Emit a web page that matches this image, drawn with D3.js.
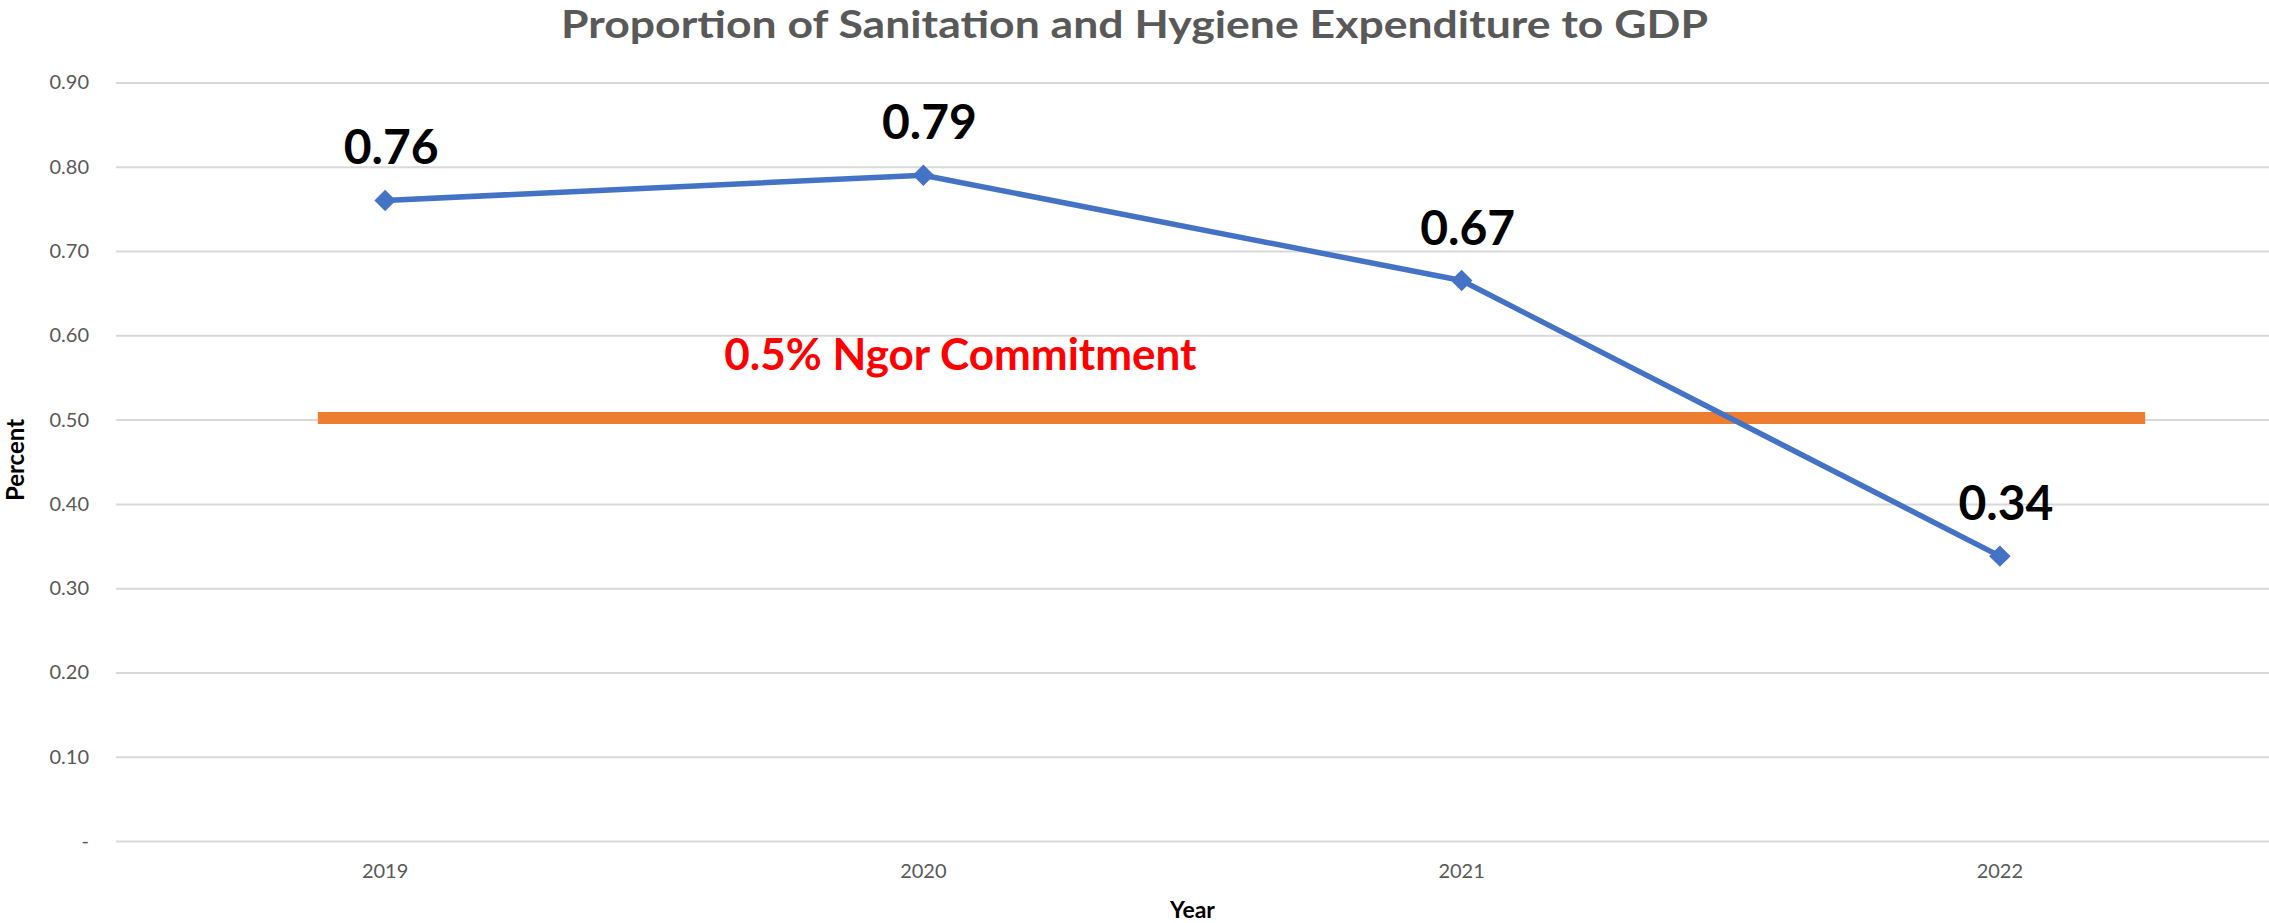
<!DOCTYPE html>
<html>
<head>
<meta charset="utf-8">
<script src="https://cdn.jsdelivr.net/npm/d3@7"></script>
<style>
  body { margin: 0; background: #fff; }
  svg { display: block; font-family: Lato, "Open Sans", sans-serif; }
</style>
</head>
<body>
<svg id="chart"></svg>
<script>
// chart data
var years = ["2019", "2020", "2021", "2022"];
var shares = [0.76, 0.79, 0.665, 0.338];
var yTicks = [0, 0.1, 0.2, 0.3, 0.4, 0.5, 0.6, 0.7, 0.8, 0.9];
var commitmentValue = 0.5;
var commitmentLabel = "0.5% Ngor Commitment";
// span of the commitment bar, in category index units
var commitmentSpan = [-0.125, 3.27];

var screen = { width: 2269, height: 923 };
var margins = { top: 82.5, bottom: 82, left: 116, right: 0 };

var plotW = screen.width - margins.left - margins.right;
var plotH = screen.height - margins.top - margins.bottom;

var svg = d3.select("#chart")
  .attr("width", screen.width)
  .attr("height", screen.height);

var xScale = d3.scaleBand().domain(years).range([0, plotW]);
var idxScale = d3.scaleLinear().domain([-0.5, years.length - 0.5]).range([0, plotW]);
var yScale = d3.scaleLinear().domain([0, 0.9]).range([plotH, 0]);

var g = svg.append("g")
  .attr("transform", "translate(" + margins.left + "," + margins.top + ")");

// gridlines + y labels
var yAxis = d3.axisLeft(yScale)
  .tickValues(yTicks)
  .tickSize(-plotW)
  .tickPadding(27)
  .tickFormat(function(d){ return d === 0 ? "-" : d3.format(".2f")(d); });

var yG = g.append("g").call(yAxis);
yG.select(".domain").remove();
yG.selectAll("line").attr("stroke", "#d9d9d9").attr("stroke-width", 2);
yG.selectAll("text")
  .attr("fill", "#595959")
  .attr("font-size", 20)
  .attr("font-family", "Lato, sans-serif");

// x labels
var xAxis = d3.axisBottom(xScale).tickSize(0).tickPadding(23);
var xG = g.append("g").attr("transform", "translate(0," + plotH + ")").call(xAxis);
xG.select(".domain").remove();
xG.selectAll("text")
  .attr("fill", "#595959")
  .attr("font-size", 20)
  .attr("font-family", "Lato, sans-serif");

// commitment bar
g.append("line")
  .attr("x1", idxScale(commitmentSpan[0]))
  .attr("x2", idxScale(commitmentSpan[1]))
  .attr("y1", yScale(commitmentValue) - 1.5)
  .attr("y2", yScale(commitmentValue) - 1.5)
  .attr("stroke", "#ed7d31")
  .attr("stroke-width", 12);

g.append("text")
  .text(commitmentLabel)
  .attr("x", xScale("2020") + xScale.bandwidth() / 2 + 37)
  .attr("y", yScale(commitmentValue) - 50)
  .attr("text-anchor", "middle")
  .attr("fill", "#ff0000")
  .attr("font-weight", "bold")
  .attr("font-size", 44);

// series line
var cx = function(d, i){ return xScale(years[i]) + xScale.bandwidth() / 2; };
var line = d3.line()
  .x(cx)
  .y(function(d){ return yScale(d); });

g.append("path")
  .datum(shares)
  .attr("d", line)
  .attr("fill", "none")
  .attr("stroke", "#4472c4")
  .attr("stroke-width", 5.5)
  .attr("stroke-linejoin", "round");

g.selectAll(".marker")
  .data(shares)
  .enter()
  .append("path")
  .attr("class", "marker")
  .attr("d", d3.symbol().type(d3.symbolSquare).size(230))
  .attr("transform", function(d, i){
    return "translate(" + cx(d, i) + "," + yScale(d) + ") rotate(45)";
  })
  .attr("fill", "#4472c4");

g.selectAll(".value-label")
  .data(shares)
  .enter()
  .append("text")
  .attr("class", "value-label")
  .attr("x", function(d, i){ return cx(d, i) + 6; })
  .attr("y", function(d){ return yScale(d) - 36; })
  .attr("text-anchor", "middle")
  .attr("font-weight", "bold")
  .attr("font-size", 48)
  .attr("fill", "#000")
  .text(function(d){ return d3.format(".2f")(d); });

// titles
svg.append("text")
  .text("Proportion of Sanitation and Hygiene Expenditure to GDP")
  .attr("x", screen.width / 2)
  .attr("y", 37.5)
  .attr("text-anchor", "middle")
  .attr("fill", "#595959")
  .attr("font-weight", "bold")
  .attr("font-size", 38)
  .attr("textLength", 1147)
  .attr("lengthAdjust", "spacingAndGlyphs");

svg.append("text")
  .text("Year")
  .attr("x", margins.left + plotW / 2)
  .attr("y", 918)
  .attr("text-anchor", "middle")
  .attr("fill", "#000")
  .attr("font-weight", "bold")
  .attr("font-size", 23);

svg.append("text")
  .text("Percent")
  .attr("transform", "translate(24," + 460 + ") rotate(-90)")
  .attr("text-anchor", "middle")
  .attr("fill", "#000")
  .attr("font-weight", "bold")
  .attr("font-size", 24);
</script>
</body>
</html>
